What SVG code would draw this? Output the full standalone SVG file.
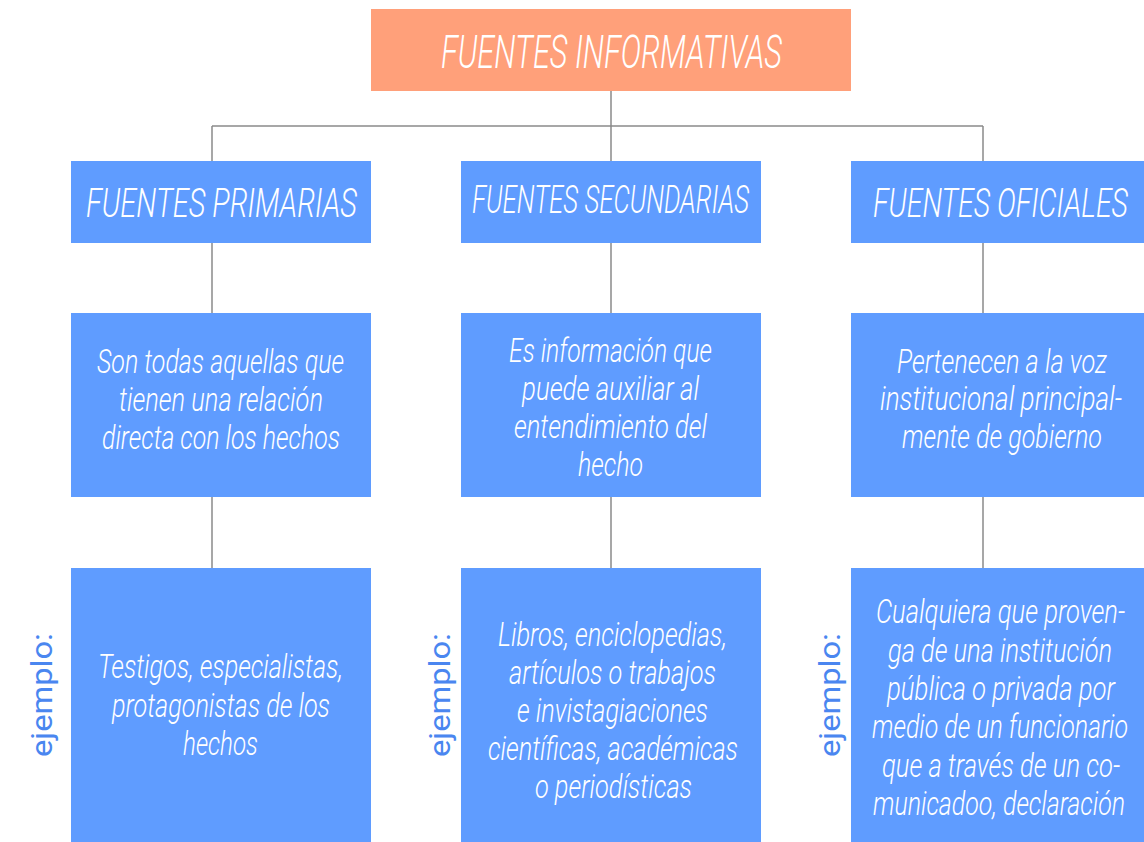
<svg xmlns="http://www.w3.org/2000/svg" width="1144" height="842" viewBox="0 0 1144 842">
<style>
.box{fill:#5F9CFF}
.top{fill:#FFA07A}
.t{font-family:Roboto,"Liberation Sans",sans-serif;font-weight:300;font-style:italic;fill:#ffffff;text-anchor:middle}
.h1{font-size:46px}
.h2{font-size:41px}
.b{font-size:33px}
.ej{font-family:Roboto,"Liberation Sans",sans-serif;font-weight:400;font-size:30px;fill:#4A86F0;text-anchor:middle}
.c{stroke:#8a8a8a;stroke-width:1.5;fill:none}
</style>
<rect width="1144" height="842" fill="#ffffff"/>
<g id="connectors">
<path class="c" d="M611 91V161M212 126H983M212 126V161M983 126V161M212 243V313M611 243V313M983 243V313M212 497V568M611 497V568M983 497V568"/>
</g>
<g id="fuentes-informativas">
<rect class="top" x="371" y="9" width="480" height="82"/>
<text class="t h1" x="611.5" y="68" textLength="341" lengthAdjust="spacingAndGlyphs">FUENTES INFORMATIVAS</text>
</g>
<g id="fuentes-primarias">
<rect class="box" x="71" y="161" width="300" height="82"/>
<text class="t h2" x="221.5" y="217" textLength="271" lengthAdjust="spacingAndGlyphs">FUENTES PRIMARIAS</text>
</g>
<g id="fuentes-secundarias">
<rect class="box" x="461" y="161" width="300" height="82"/>
<text class="t h2" x="610.5" y="213" textLength="277" lengthAdjust="spacingAndGlyphs" style="font-size:39px">FUENTES SECUNDARIAS</text>
</g>
<g id="fuentes-oficiales">
<rect class="box" x="851" y="161" width="293" height="82"/>
<text class="t h2" x="1000.5" y="217" textLength="255" lengthAdjust="spacingAndGlyphs">FUENTES OFICIALES</text>
</g>
<g id="def-primarias">
<rect class="box" x="71" y="313" width="300" height="184"/>
<text class="t b" x="220.5" y="373" textLength="247" lengthAdjust="spacingAndGlyphs">Son todas aquellas que</text>
<text class="t b" x="221" y="411" textLength="204" lengthAdjust="spacingAndGlyphs">tienen una relación</text>
<text class="t b" x="221" y="449" textLength="238" lengthAdjust="spacingAndGlyphs">directa con los hechos</text>
</g>
<g id="def-secundarias">
<rect class="box" x="461" y="313" width="300" height="184"/>
<text class="t b" x="610.5" y="362" textLength="203" lengthAdjust="spacingAndGlyphs">Es información que</text>
<text class="t b" x="610.5" y="400" textLength="177" lengthAdjust="spacingAndGlyphs">puede auxiliar al</text>
<text class="t b" x="610.5" y="438" textLength="193" lengthAdjust="spacingAndGlyphs">entendimiento del</text>
<text class="t b" x="610.5" y="476" textLength="65" lengthAdjust="spacingAndGlyphs">hecho</text>
</g>
<g id="def-oficiales">
<rect class="box" x="851" y="313" width="293" height="184"/>
<text class="t b" x="1002" y="373" textLength="210" lengthAdjust="spacingAndGlyphs">Pertenecen a la voz</text>
<text class="t b" x="1001" y="410" textLength="242" lengthAdjust="spacingAndGlyphs">institucional principal-</text>
<text class="t b" x="1002" y="448" textLength="200" lengthAdjust="spacingAndGlyphs">mente de gobierno</text>
</g>
<g id="ejemplo-primarias">
<rect class="box" x="71" y="568" width="300" height="274"/>
<text class="t b" x="220.5" y="678" textLength="245" lengthAdjust="spacingAndGlyphs">Testigos, especialistas,</text>
<text class="t b" x="221" y="717" textLength="218" lengthAdjust="spacingAndGlyphs">protagonistas de los</text>
<text class="t b" x="220.5" y="755" textLength="75" lengthAdjust="spacingAndGlyphs">hechos</text>
<text class="ej" transform="translate(52 695) rotate(-90)" textLength="124" lengthAdjust="spacingAndGlyphs">ejemplo:</text>
</g>
<g id="ejemplo-secundarias">
<rect class="box" x="461" y="568" width="300" height="274"/>
<text class="t b" x="612.5" y="646" textLength="229" lengthAdjust="spacingAndGlyphs">Libros, enciclopedias,</text>
<text class="t b" x="612.5" y="684" textLength="207" lengthAdjust="spacingAndGlyphs">artículos o trabajos</text>
<text class="t b" x="612.5" y="722" textLength="191" lengthAdjust="spacingAndGlyphs">e invistagiaciones</text>
<text class="t b" x="613" y="760" textLength="250" lengthAdjust="spacingAndGlyphs">científicas, académicas</text>
<text class="t b" x="613.5" y="798" textLength="157" lengthAdjust="spacingAndGlyphs">o periodísticas</text>
<text class="ej" transform="translate(450 695) rotate(-90)" textLength="124" lengthAdjust="spacingAndGlyphs">ejemplo:</text>
</g>
<g id="ejemplo-oficiales">
<rect class="box" x="851" y="568" width="293" height="274"/>
<text class="t b" x="1000.5" y="623" textLength="249" lengthAdjust="spacingAndGlyphs">Cualquiera que proven-</text>
<text class="t b" x="1000" y="662" textLength="224" lengthAdjust="spacingAndGlyphs">ga de una institución</text>
<text class="t b" x="1001" y="700" textLength="228" lengthAdjust="spacingAndGlyphs">pública o privada por</text>
<text class="t b" x="1000" y="738" textLength="256" lengthAdjust="spacingAndGlyphs">medio de un funcionario</text>
<text class="t b" x="1001" y="777" textLength="238" lengthAdjust="spacingAndGlyphs">que a través de un co-</text>
<text class="t b" x="999" y="815" textLength="252" lengthAdjust="spacingAndGlyphs">municadoo, declaración</text>
<text class="ej" transform="translate(840 695) rotate(-90)" textLength="124" lengthAdjust="spacingAndGlyphs">ejemplo:</text>
</g>
</svg>
